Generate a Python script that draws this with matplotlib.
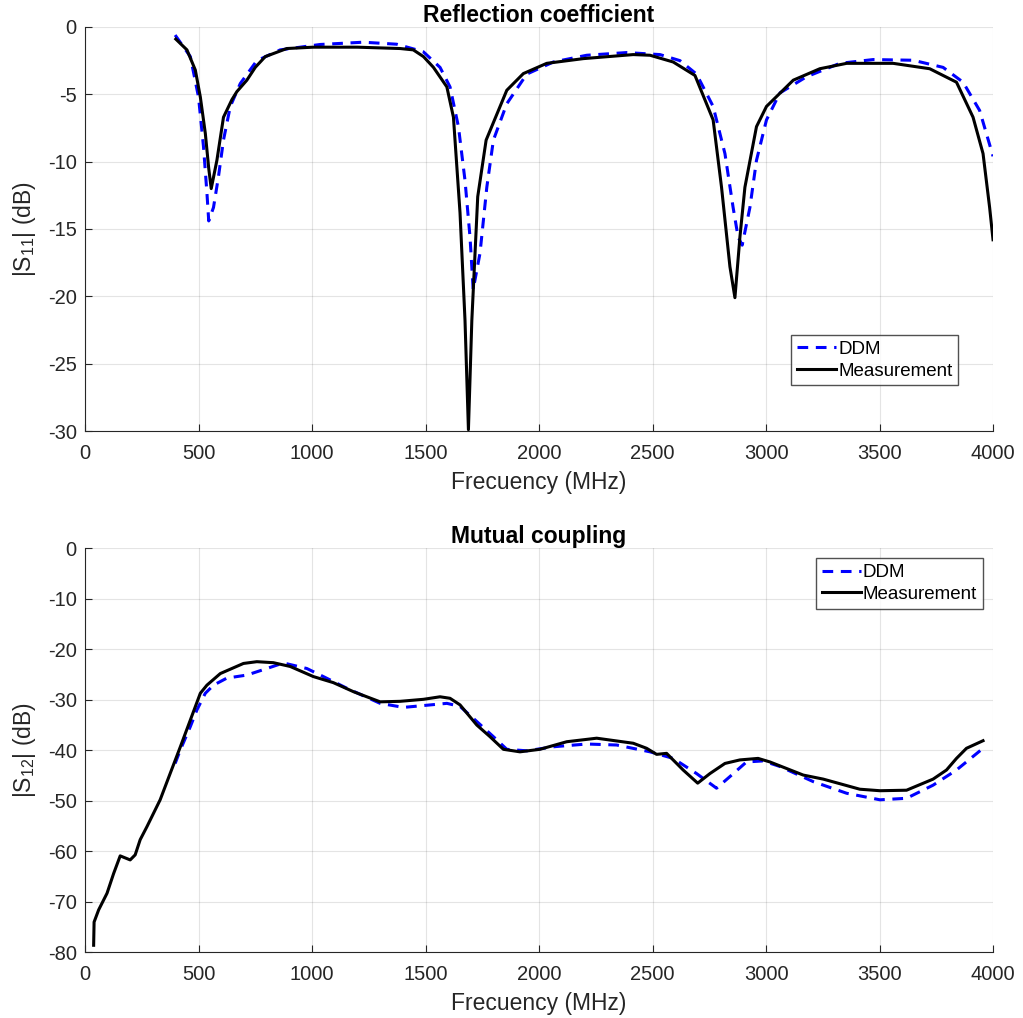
# S-parameter comparison: DDM vs measurement
import numpy as np
import matplotlib.pyplot as plt

plt.rcParams['font.family'] = ['Liberation Sans', 'DejaVu Sans']
plt.rcParams['mathtext.fontset'] = 'custom'
plt.rcParams['mathtext.rm'] = 'Liberation Sans'
plt.rcParams['mathtext.it'] = 'Liberation Sans'
plt.rcParams['axes.unicode_minus'] = False

# |S11| data (MHz, dB)
s11_ddm_f = [397, 464, 500, 522, 537, 545, 566, 588, 610, 640, 684, 757, 860, 1036, 1226,
             1373, 1462, 1491, 1564, 1608, 1645, 1674, 1696, 1710, 1740, 1770, 1799, 1858,
             1946, 2063, 2210, 2386, 2533, 2621, 2694, 2767, 2819, 2855, 2877, 2895, 2929,
             2958, 3002, 3061, 3178, 3325, 3472, 3648, 3780, 3868, 3941, 4000]
s11_ddm_db = [-0.6, -2.2, -5.2, -8.9, -12.3, -14.4, -13.4, -11.1, -8.4, -5.9, -4.2, -2.5, -1.7,
              -1.3, -1.13, -1.28, -1.7, -1.85, -3.0, -4.45, -7.4, -11.4, -15.6, -19.5, -16.8,
              -11.9, -8.4, -5.7, -3.5, -2.6, -2.1, -1.9, -2.05, -2.5, -3.5, -5.9, -9.4, -13.4,
              -15.6, -16.2, -13.4, -9.9, -6.9, -4.9, -3.7, -2.7, -2.42, -2.47, -3.0, -4.1,
              -6.2, -9.6]

s11_meas_f = [400, 449, 486, 508, 530, 545, 556, 581, 610, 647, 669, 713, 750, 794, 889, 1005,
              1200, 1388, 1446, 1491, 1535, 1594, 1623, 1652, 1674, 1689, 1704, 1730, 1767,
              1858, 1931, 2034, 2195, 2415, 2489, 2591, 2687, 2767, 2804, 2841, 2863, 2885,
              2907, 2958, 3002, 3120, 3237, 3355, 3560, 3721, 3839, 3912, 3956, 3985, 4000]
s11_meas_db = [-0.9, -1.7, -3.2, -5.2, -7.9, -10.5, -12.0, -9.9, -6.7, -5.4, -4.8, -3.95, -3.0,
               -2.2, -1.6, -1.5, -1.5, -1.6, -1.7, -2.2, -3.0, -4.45, -6.7, -13.8, -21.8,
               -29.9, -21.8, -12.6, -8.4, -4.7, -3.46, -2.7, -2.35, -2.05, -2.1, -2.6, -3.6,
               -6.9, -11.9, -17.8, -20.1, -15.6, -11.9, -7.4, -5.9, -3.95, -3.1, -2.7, -2.7,
               -3.1, -4.1, -6.7, -9.4, -13.4, -15.8]

# |S12| data (MHz, dB)
s12_ddm_f = [397, 420, 464, 493, 530, 566, 625, 713, 801, 874, 977, 1050, 1153, 1300, 1403,
             1476, 1594, 1652, 1726, 1799, 1858, 1946, 2063, 2210, 2342, 2489, 2591, 2694,
             2782, 2841, 2914, 2987, 3061, 3208, 3355, 3502, 3619, 3736, 3839, 3956]
s12_ddm_db = [-42.6, -39.9, -35.3, -32.0, -28.7, -27.1, -25.7, -25.1, -23.8, -22.7, -23.8,
              -25.4, -27.7, -30.7, -31.5, -31.2, -30.7, -31.3, -34.3, -37.3, -39.8, -40.1,
              -39.3, -38.75, -38.95, -40.3, -41.6, -44.6, -47.5, -45.2, -42.3, -42.1, -43.2,
              -46.2, -48.5, -49.8, -49.5, -46.9, -43.9, -39.6]

s12_meas_f = [38, 40, 60, 97, 126, 155, 199, 221, 243, 273, 331, 375, 420, 464, 508, 537,
              596, 698, 757, 830, 904, 1006, 1094, 1183, 1300, 1388, 1491, 1564, 1608, 1652,
              1726, 1784, 1843, 1916, 2004, 2122, 2254, 2415, 2474, 2518, 2562, 2635, 2699,
              2753, 2819, 2885, 2965, 3017, 3164, 3252, 3413, 3502, 3619, 3736, 3795, 3839,
              3883, 3956]
s12_meas_db = [-78.6, -74.0, -71.6, -68.3, -64.4, -60.9, -61.7, -60.7, -57.7, -55.1, -49.8,
               -44.6, -39.3, -34.0, -28.7, -27.1, -24.8, -22.8, -22.45, -22.65, -23.4,
               -25.4, -26.6, -28.4, -30.4, -30.3, -29.9, -29.4, -29.7, -31.0, -35.0, -37.3,
               -39.8, -40.3, -39.8, -38.3, -37.6, -38.6, -39.6, -40.8, -40.6, -43.9, -46.5,
               -44.6, -42.6, -41.9, -41.6, -42.3, -44.9, -45.7, -47.7, -48.0, -47.9, -45.7,
               -43.9, -41.6, -39.6, -38.1]

axcol = (0.15, 0.15, 0.15)
fig = plt.figure(figsize=(10.23, 10.18), dpi=100)
ax1 = fig.add_axes([0.0831, 0.5766, 0.8876, 0.3969])
ax2 = fig.add_axes([0.0831, 0.0645, 0.8876, 0.3969])


def style(ax, ylim, yticks, ylab, title):
    ax.set_xlim(0, 4000)
    ax.set_ylim(*ylim)
    ax.set_xticks(np.arange(0, 4001, 500))
    ax.set_yticks(yticks)
    ax.grid(True, color=(0.15, 0.15, 0.15), alpha=0.12, linewidth=0.8)
    ax.spines['top'].set_visible(False)
    ax.spines['right'].set_visible(False)
    for s in ['left', 'bottom']:
        ax.spines[s].set_color(axcol)
        ax.spines[s].set_linewidth(0.8)
    ax.tick_params(direction='in', length=5, width=0.8, colors=axcol, labelsize=14.5,
                   labelcolor=axcol)
    ax.tick_params(axis='x', pad=9)
    ax.tick_params(axis='y', pad=6)
    ax.set_xlabel('Frecuency (MHz)', fontsize=16.5, color=axcol, labelpad=6)
    ax.set_ylabel(ylab, fontsize=16.5, color=axcol, labelpad=7)
    ax.set_title(title, fontsize=16.5, fontweight='bold', pad=3)


leg_kw = dict(fontsize=13.5, frameon=True, fancybox=False, edgecolor=axcol, borderpad=0.3,
              handlelength=2.1, handletextpad=0.1, labelspacing=0.25, borderaxespad=0)

ax1.plot(s11_ddm_f, s11_ddm_db, '--', color='blue', lw=2.2, dashes=(3.5, 2.5), label='DDM')
ax1.plot(s11_meas_f, s11_meas_db, '-', color='black', lw=2.2, label='Measurement')
style(ax1, (-30, 0), np.arange(-30, 1, 5), r'|S$_{11}$| (dB)', 'Reflection coefficient')
ax1.legend(loc='upper left', bbox_to_anchor=(0.778, 0.2375), **leg_kw)

ax2.plot(s12_ddm_f, s12_ddm_db, '--', color='blue', lw=2.2, dashes=(3.5, 2.5), label='DDM')
ax2.plot(s12_meas_f, s12_meas_db, '-', color='black', lw=2.2, label='Measurement')
style(ax2, (-80, 0), np.arange(-80, 1, 10), r'|S$_{12}$| (dB)', 'Mutual coupling')
ax2.legend(loc='upper left', bbox_to_anchor=(0.805, 0.975), **leg_kw)

plt.savefig('out.png', dpi=100)
